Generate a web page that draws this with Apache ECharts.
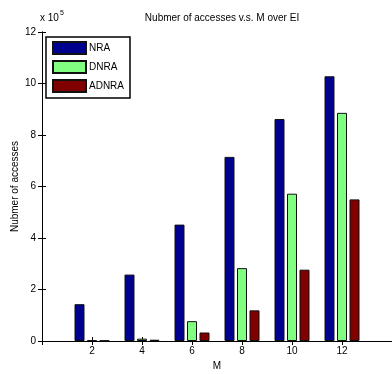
<!DOCTYPE html>
<html>
<head>
<meta charset="utf-8">
<script src="https://cdn.jsdelivr.net/npm/echarts@6/dist/echarts.min.js"></script>
<style>html,body{margin:0;padding:0;background:#fff;}#c{width:392px;height:374px;}</style>
</head>
<body>
<div id="c"></div>
<script>
var M = [2, 4, 6, 8, 10, 12];
var NRA = [1.43, 2.58, 4.52, 7.15, 8.62, 10.28];
var DNRA = [0.03, 0.09, 0.77, 2.83, 5.72, 8.86];
var ADNRA = [0.02, 0.05, 0.33, 1.19, 2.77, 5.50];
var yTicks = [0, 2, 4, 6, 8, 10, 12];
var seriesNames = ['NRA', 'DNRA', 'ADNRA'];
var seriesColors = ['#00008F', '#80FF80', '#800000'];

function pairs(vals) { return M.map(function (m, i) { return [m, vals[i]]; }); }
var F = 'Liberation Sans, Arial, sans-serif';
var chart = echarts.init(document.getElementById('c'));
var axisCommon = {
  axisLine: { show: true, lineStyle: { color: '#000', width: 1 } },
  axisTick: { show: true, inside: true, length: 4, lineStyle: { color: '#000' } },
  splitLine: { show: false }
};
chart.setOption({
  animation: false,
  backgroundColor: '#fff',
  title: {
    text: 'Nubmer of accesses v.s. M over EI',
    left: 217, top: 8, textAlign: 'center',
    textStyle: { fontFamily: F, fontSize: 10, fontWeight: 'normal', color: '#000' }
  },
  graphic: [{
    type: 'text', left: 40, top: 10,
    style: {
      text: '{a|x 10}{b|5}',
      rich: {
        a: { fontFamily: F, fontSize: 10, fill: '#000', verticalAlign: 'bottom' },
        b: { fontFamily: F, fontSize: 7, fill: '#000', verticalAlign: 'top', padding: [0, 0, 6, 1] }
      }
    }
  }],
  legend: {
    orient: 'vertical', left: 46, top: 37,
    padding: [4, 6, 5, 6], itemGap: 5, itemWidth: 33, itemHeight: 12,
    borderColor: '#000', borderWidth: 1.5, backgroundColor: '#fff',
    icon: 'rect',
    textStyle: { fontFamily: F, fontSize: 10, color: '#000', padding: [0, 0, 0, -2] },
    data: seriesNames
  },
  grid: { left: 42, right: 0, top: 32, bottom: 33, outerBoundsMode: 'none', containLabel: false },
  xAxis: [
    Object.assign({
      type: 'value', min: 0, max: 14, interval: 2,
      name: 'M', nameLocation: 'middle', nameGap: 20, nameMoveOverlap: false,
      nameTextStyle: { fontFamily: F, fontSize: 10, color: '#000' },
      axisLabel: {
        fontFamily: F, fontSize: 10, color: '#000', margin: 5,
        formatter: function (v) { return (v === 0 || v === 14) ? '' : String(v); }
      }
    }, axisCommon),
    Object.assign({
      type: 'value', min: 0, max: 14, interval: 2, position: 'top',
      axisLabel: { show: false }
    }, axisCommon)
  ],
  yAxis: [
    Object.assign({
      type: 'value', min: yTicks[0], max: yTicks[yTicks.length - 1], interval: 2,
      name: 'Nubmer of accesses', nameLocation: 'middle', nameGap: 22, nameMoveOverlap: false,
      nameTextStyle: { fontFamily: F, fontSize: 10, color: '#000' },
      axisLabel: { fontFamily: F, fontSize: 10, color: '#000', margin: 6 }
    }, axisCommon),
    Object.assign({
      type: 'value', min: 0, max: 12, interval: 2, position: 'right',
      axisLabel: { show: false }
    }, axisCommon)
  ],
  series: [NRA, DNRA, ADNRA].map(function (vals, i) {
    return {
      name: seriesNames[i], type: 'bar', data: pairs(vals),
      barWidth: 10, barGap: '25%',
      itemStyle: { color: seriesColors[i], borderColor: '#111', borderWidth: 1 }
    };
  })
});
</script>
</body>
</html>
